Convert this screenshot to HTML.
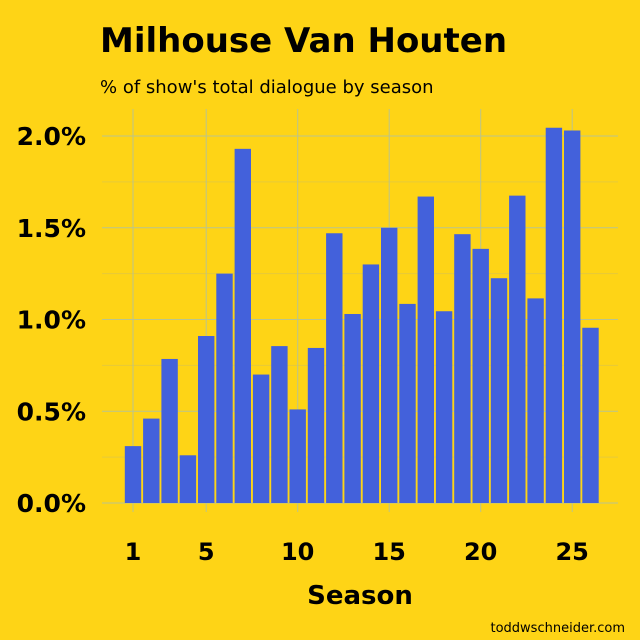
<!DOCTYPE html>
<html><head><meta charset="utf-8"><style>
body{margin:0;background:#FED416;}
svg{display:block;font-family:"Comic Sans MS","DejaVu Sans","Liberation Sans",sans-serif;}
</style></head><body>
<svg id="c" width="640" height="640">
<rect width="640" height="640" fill="#FED416"/>
<text x="100" y="52" font-size="34" font-weight="bold" fill="#000">Milhouse Van Houten</text>
<text x="100" y="93" font-size="18" fill="#000">% of show's total dialogue by season</text>
<g id="grid"></g><g id="bars"></g><g id="axes"></g>
<text x="360" y="604" font-size="26" font-weight="bold" text-anchor="middle">Season</text>
<text x="625" y="632" font-size="13" text-anchor="end">toddwschneider.com</text>
</svg>
<script>
const seasons=[1,2,3,4,5,6,7,8,9,10,11,12,13,14,15,16,17,18,19,20,21,22,23,24,25,26];
const values=[0.31,0.46,0.785,0.26,0.91,1.25,1.93,0.70,0.855,0.51,0.845,1.47,1.03,1.30,1.50,1.085,1.67,1.045,1.465,1.385,1.225,1.675,1.115,2.045,2.03,0.955];
const yTicks=[0,0.5,1.0,1.5,2.0];
const yTickLabels=["0.0%","0.5%","1.0%","1.5%","2.0%"];
const xTicks=[1,5,10,15,20,25];
const NS="http://www.w3.org/2000/svg";
const x=s=>133+(s-1)*18.3;
const y=v=>503-v*183.5;
function mk(t,a,p){const e=document.createElementNS(NS,t);for(const k in a)e.setAttribute(k,a[k]);p.appendChild(e);return e;}
const grid=document.getElementById('grid'),bars=document.getElementById('bars'),axes=document.getElementById('axes');
for(let v=0;v<=2.0;v+=0.25){const l=mk('line',{x1:102,x2:618,y1:y(v),y2:y(v),stroke:(v*4)%2===0?'#b9c48f':'#e6c93a','stroke-width':1},grid);

}
xTicks.forEach(s=>{const l=mk('line',{x1:x(s),x2:x(s),y1:109,y2:512,stroke:'#b9c48f','stroke-width':1},grid);

});
seasons.forEach((s,i)=>{const r=mk('rect',{x:x(s)-8.2,y:y(values[i]),width:16.4,height:y(0)-y(values[i]),fill:'#4361DB'},bars);

});
yTicks.forEach((v,i)=>{const t=mk('text',{x:86,y:y(v)+9,'font-size':25,'font-weight':'bold','text-anchor':'end'},axes);t.textContent=yTickLabels[i];

});
xTicks.forEach(s=>{const t=mk('text',{x:x(s),y:560,'font-size':24,'font-weight':'bold','text-anchor':'middle'},axes);t.textContent=s;

});
</script>
</body></html>
